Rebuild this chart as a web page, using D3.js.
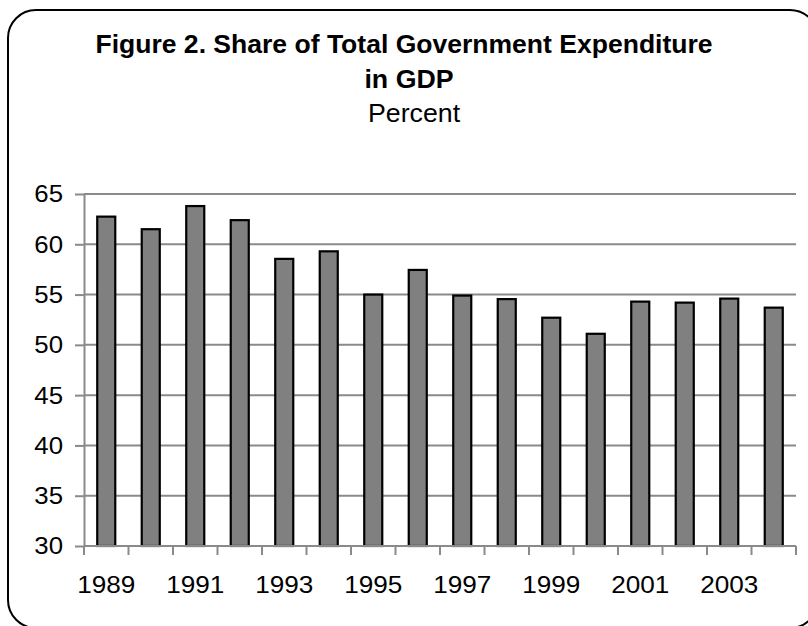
<!DOCTYPE html>
<html>
<head>
<meta charset="utf-8">
<script src="https://cdn.jsdelivr.net/npm/d3@7"></script>
<style>
  html, body { margin: 0; padding: 0; background: #fff; }
  svg { display: block; font-family: "Liberation Sans", Arial, sans-serif; }
</style>
</head>
<body>
<svg id="chart" width="808" height="626"></svg>
<script>
// Total government expenditure as a share of GDP, by year (percent)
const years = ["1989", "1990", "1991", "1992", "1993", "1994", "1995", "1996",
               "1997", "1998", "1999", "2000", "2001", "2002", "2003", "2004"];
const shareOfGDP = [62.75, 61.5, 63.8, 62.4, 58.55, 59.3, 55.0, 57.45,
                    54.9, 54.55, 52.7, 51.1, 54.3, 54.2, 54.6, 53.7];
const yTicks = [30, 35, 40, 45, 50, 55, 60, 65];
const xTickLabels = ["1989", "1991", "1993", "1995", "1997", "1999", "2001", "2003"];
const titleLines = ["Figure 2. Share of Total Government Expenditure", "in GDP"];
const subtitle = "Percent";

const svg = d3.select("#chart");
const plot = { left: 84, right: 796, top: 194, bottom: 546 };
const stretch = 1.075;   // slightly wide lettering

// Text helper: places a string at (x, y) with a horizontal stretch
function label(x, y, str, opts = {}) {
  return svg.append("text")
    .attr("transform", `translate(${x},${y}) scale(${opts.sx || stretch},1)`)
    .attr("text-anchor", opts.anchor || "middle")
    .attr("dy", opts.dy || 0)
    .attr("font-size", opts.size || 24)
    .attr("font-weight", opts.bold ? "bold" : "normal")
    .attr("fill", "#000")
    .text(str);
}

// Rounded outer frame
svg.append("rect")
  .attr("x", 8).attr("y", 10)
  .attr("width", 810).attr("height", 618)
  .attr("rx", 28).attr("ry", 28)
  .attr("fill", "#fff")
  .attr("stroke", "#000")
  .attr("stroke-width", 2);

// Titles
label(404, 53, titleLines[0], { size: 25, bold: true, sx: 1.062 });
label(409, 88, titleLines[1], { size: 25, bold: true, sx: 1.07 });
label(414, 121.5, subtitle, { size: 25, sx: 1.07 });

const x = d3.scaleBand().domain(years)
  .range([plot.left, plot.right])
  .paddingInner(0.595).paddingOuter(0.2975);
const y = d3.scaleLinear().domain([30, 65]).range([plot.bottom, plot.top]);

const gridColor = "#8a8a8a";

// Horizontal gridlines
svg.append("g").selectAll("line").data(yTicks.filter(v => v > 30)).join("line")
  .attr("x1", plot.left).attr("x2", plot.right)
  .attr("y1", d => y(d)).attr("y2", d => y(d))
  .attr("stroke", gridColor).attr("stroke-width", 2);

// Bars
svg.append("g").selectAll("rect").data(years).join("rect")
  .attr("x", d => x(d))
  .attr("width", x.bandwidth())
  .attr("y", (d, i) => y(shareOfGDP[i]))
  .attr("height", (d, i) => y(30) - y(shareOfGDP[i]))
  .attr("fill", "#808080")
  .attr("stroke", "#000")
  .attr("stroke-width", 2.2);

// Y axis line and ticks
const yAxis = svg.append("g")
  .attr("transform", `translate(${plot.left},0)`)
  .call(d3.axisLeft(y).tickValues(yTicks).tickSize(9).tickFormat("").tickSizeOuter(0));
yAxis.select(".domain").attr("stroke", gridColor).attr("stroke-width", 2);
yAxis.selectAll(".tick line").attr("stroke", gridColor).attr("stroke-width", 2);
yTicks.forEach(v => label(plot.left - 21, y(v), String(v), { anchor: "end", dy: "0.35em", size: 24 }));

// X axis: ticks at category boundaries, labels every other year
const boundaryX = d3.range(years.length + 1)
  .map(i => plot.left + i * (plot.right - plot.left) / years.length);
const xg = svg.append("g");
xg.append("line")
  .attr("x1", plot.left).attr("x2", plot.right)
  .attr("y1", plot.bottom).attr("y2", plot.bottom)
  .attr("stroke", gridColor).attr("stroke-width", 2);
xg.selectAll("line.tick").data(boundaryX).join("line")
  .attr("class", "tick")
  .attr("x1", d => d).attr("x2", d => d)
  .attr("y1", plot.bottom).attr("y2", plot.bottom + 9)
  .attr("stroke", gridColor).attr("stroke-width", 2);
xTickLabels.forEach(d => label(x(d) + x.bandwidth() / 2, 593, d, { size: 24, sx: 1.09 }));
</script>
</body>
</html>
